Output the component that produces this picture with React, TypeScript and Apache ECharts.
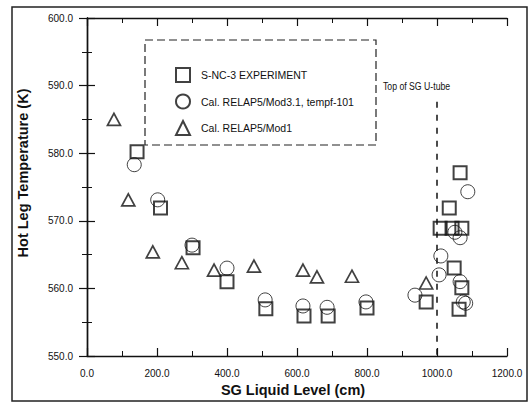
import React, { useEffect, useRef } from "react";
import * as echarts from "echarts";

// S-NC-3 experiment (squares)
const expLevel = [143, 210, 303, 400, 511, 620, 689, 800, 969, 1009, 1043, 1071, 1035, 1066, 1049, 1071, 1063];
const expTemp = [580.2, 571.9, 566.0, 561.0, 557.0, 555.9, 555.9, 557.1, 558.0, 568.9, 568.9, 568.9, 571.9, 577.1, 563.0, 560.1, 556.9];

// RELAP5/Mod3.1, tempf-101 (circles)
const mod31Level = [135, 202, 300, 400, 509, 617, 686, 797, 937, 1006, 1011, 1051, 1066, 1088, 1066, 1075, 1082];
const mod31Temp = [578.3, 573.1, 566.4, 563.0, 558.3, 557.4, 557.2, 558.0, 559.0, 562.0, 564.8, 568.3, 567.5, 574.3, 561.0, 558.0, 557.8];

// RELAP5/Mod1 (triangles)
const mod1Level = [77, 118, 188, 271, 363, 477, 617, 657, 757, 969];
const mod1Temp = [585.0, 573.1, 565.4, 563.8, 562.7, 563.3, 562.7, 561.7, 561.8, 560.8];

const seriesNames = ["S-NC-3 EXPERIMENT", "Cal. RELAP5/Mod3.1, tempf-101", "Cal. RELAP5/Mod1"];
const uTubeTop = 1000;

const zip = (xs: number[], ys: number[]) => xs.map((x, i) => [x, ys[i]]);

const FONT = "Liberation Sans, Arial, sans-serif";
const INK = "#111";

export default function App() {
  const ref = useRef<HTMLDivElement>(null);

  useEffect(() => {
    document.body.style.margin = "0";
    const chart = echarts.init(ref.current!, null, { renderer: "svg" });

    const axisCommon = {
      type: "value" as const,
      axisLine: { show: true, lineStyle: { color: INK, width: 1.4 } },
      axisTick: { show: true, inside: true, length: 8, lineStyle: { color: INK, width: 1.2 } },
      minorTick: { show: true, splitNumber: 2, length: 5, lineStyle: { color: INK, width: 1 } },
      splitLine: { show: false },
    };

    chart.setOption({
      animation: false,
      backgroundColor: "#fff",
      grid: { left: 87, right: 25, top: 18, bottom: 48, containLabel: false },
      xAxis: [
        {
          ...axisCommon,
          min: 0,
          max: 1200,
          interval: 200,
          position: "bottom",
          axisLabel: {
            margin: 12,
            fontFamily: FONT,
            fontSize: 10,
            color: INK,
            formatter: (v: number) => v.toFixed(1),
          },
        },
        {
          ...axisCommon,
          min: 0,
          max: 1200,
          interval: 200,
          position: "top",
          axisLabel: { show: false },
        },
      ],
      yAxis: [
        {
          ...axisCommon,
          min: 550,
          max: 600,
          interval: 10,
          position: "left",
          axisLabel: {
            margin: 14,
            fontFamily: FONT,
            fontSize: 10,
            color: INK,
            formatter: (v: number) => v.toFixed(1),
          },
        },
        {
          ...axisCommon,
          min: 550,
          max: 600,
          interval: 10,
          position: "right",
          axisLabel: { show: false },
        },
      ],
      legend: {
        orient: "vertical",
        left: 170,
        top: 62,
        itemWidth: 14,
        itemHeight: 14,
        itemGap: 10.5,
        data: seriesNames,
        textStyle: { fontFamily: FONT, fontSize: 10.5, color: INK, padding: [0, 0, 0, 6] },
      },
      series: [
        {
          name: seriesNames[1],
          type: "scatter",
          symbol: "circle",
          symbolSize: 14,
          itemStyle: { color: "rgba(255,255,255,0)", borderColor: INK, borderWidth: 1 },
          data: zip(mod31Level, mod31Temp),
          z: 2,
        },
        {
          name: seriesNames[0],
          type: "scatter",
          symbol: "rect",
          symbolSize: 13,
          itemStyle: { color: "rgba(255,255,255,0)", borderColor: INK, borderWidth: 2 },
          data: zip(expLevel, expTemp),
          z: 3,
          markLine: {
            silent: true,
            symbol: "none",
            label: { show: false },
            lineStyle: { color: INK, type: [6, 7], width: 1.5 },
            data: [[{ coord: [uTubeTop, 587.6] }, { coord: [uTubeTop, 550] }]],
          },
        },
        {
          name: seriesNames[2],
          type: "scatter",
          symbol: "triangle",
          symbolSize: [13, 12],
          itemStyle: { color: "rgba(255,255,255,0)", borderColor: INK, borderWidth: 1.7 },
          data: zip(mod1Level, mod1Temp),
          z: 3,
        },
      ],
      graphic: [
        {
          type: "rect",
          shape: { x: 12, y: 7, width: 515, height: 394 },
          style: { fill: "none", stroke: "#222", lineWidth: 1.5 },
          silent: true,
        },
        {
          type: "rect",
          shape: { x: 145, y: 40, width: 231, height: 105 },
          style: { fill: "none", stroke: "#222", lineWidth: 1.2, lineDash: [8, 4] },
          silent: true,
        },
        {
          type: "text",
          x: 383,
          y: 87,
          scaleX: 0.87,
          style: {
            text: "Top of SG U-tube",
            font: `10px ${FONT}`,
            fill: INK,
            verticalAlign: "middle",
          },
        },
        {
          type: "text",
          x: 293,
          y: 390,
          style: {
            text: "SG Liquid Level (cm)",
            font: `bold 14.5px ${FONT}`,
            fill: INK,
            align: "center",
            verticalAlign: "middle",
          },
        },
        {
          type: "text",
          x: 23,
          y: 173,
          rotation: Math.PI / 2,
          style: {
            text: "Hot Leg Temperature (K)",
            font: `bold 14.5px ${FONT}`,
            fill: INK,
            align: "center",
            verticalAlign: "middle",
          },
        },
      ],
    });

    return () => chart.dispose();
  }, []);

  return <div ref={ref} style={{ width: 532, height: 404 }} />;
}
